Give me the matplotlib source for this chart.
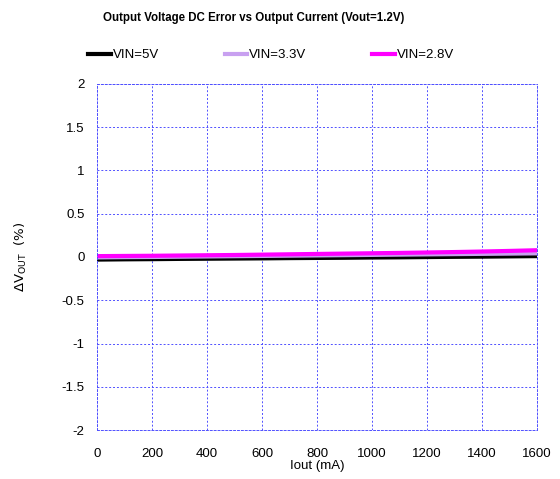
import numpy as np
import matplotlib
matplotlib.use("Agg")
import matplotlib.pyplot as plt

plt.rcParams['font.family'] = ['Liberation Sans', 'DejaVu Sans']

iout = [0, 100, 200, 300, 400, 500, 600, 700, 800, 900, 1000, 1100, 1200, 1300, 1400, 1500, 1600]
vin_5 = [-0.030, -0.027, -0.025, -0.022, -0.020, -0.018, -0.016, -0.013, -0.011, -0.009, -0.006, -0.004,
         -0.001, 0.002, 0.004, 0.007, 0.010]
vin_33 = [-0.005, -0.002, 0.000, 0.003, 0.006, 0.009, 0.012, 0.015, 0.018, 0.021, 0.024, 0.027,
          0.030, 0.033, 0.036, 0.039, 0.042]
vin_28 = [0.010, 0.012, 0.014, 0.017, 0.020, 0.023, 0.027, 0.031, 0.035, 0.039, 0.043, 0.047,
          0.052, 0.057, 0.063, 0.070, 0.078]

xticks = [0, 200, 400, 600, 800, 1000, 1200, 1400, 1600]
yticks = [-2, -1.5, -1, -0.5, 0, 0.5, 1, 1.5, 2]
ylabels = ['-2', '-1.5', '-1', '-0.5', '0', '0.5', '1', '1.5', '2']

fig = plt.figure(figsize=(5.6, 4.79), dpi=100)
ax = fig.add_axes([0.173, 0.102, 0.786, 0.723])

ax.plot(iout, vin_5, color='black', lw=3, label='VIN=5V')
ax.plot(iout, vin_33, color='#c8a0f0', lw=3, label='VIN=3.3V')
ax.plot(iout, vin_28, color='#ff00ff', lw=3, label='VIN=2.8V')

ax.set_xlim(0, 1600)
ax.set_ylim(-2, 2)
ax.set_xticks(xticks)
ax.set_yticks(yticks)
ax.set_yticklabels(ylabels)
ax.tick_params(length=0, labelsize=9.5)
ax.tick_params(axis='y', pad=9)
ax.tick_params(axis='x', pad=13)
ax.grid(True, color='#5050ff', ls=(0, (2, 2)), lw=0.7)
for s in ax.spines.values():
    s.set_color('#5050ff')
    s.set_linestyle((0, (2, 2)))
    s.set_linewidth(0.7)

ax.set_xlabel('Iout (mA)', fontsize=9.5, labelpad=0)
fig.text(0.038, 0.463, 'ΔV$_{\\mathregular{OUT}}$  (%)', rotation=90, ha='center', va='center',
         fontsize=9.5, family='DejaVu Sans')

fig.text(0.453, 0.962, 'Output Voltage DC Error vs Output Current (Vout=1.2V)',
         ha='center', va='center', fontsize=8.3, weight='bold')
fig.legend(loc='center', bbox_to_anchor=(0.484, 0.885), ncol=3, frameon=False,
           fontsize=9.5, handlelength=1.7, handletextpad=0.15, columnspacing=5.0)

fig.savefig('out.png', dpi=100)
